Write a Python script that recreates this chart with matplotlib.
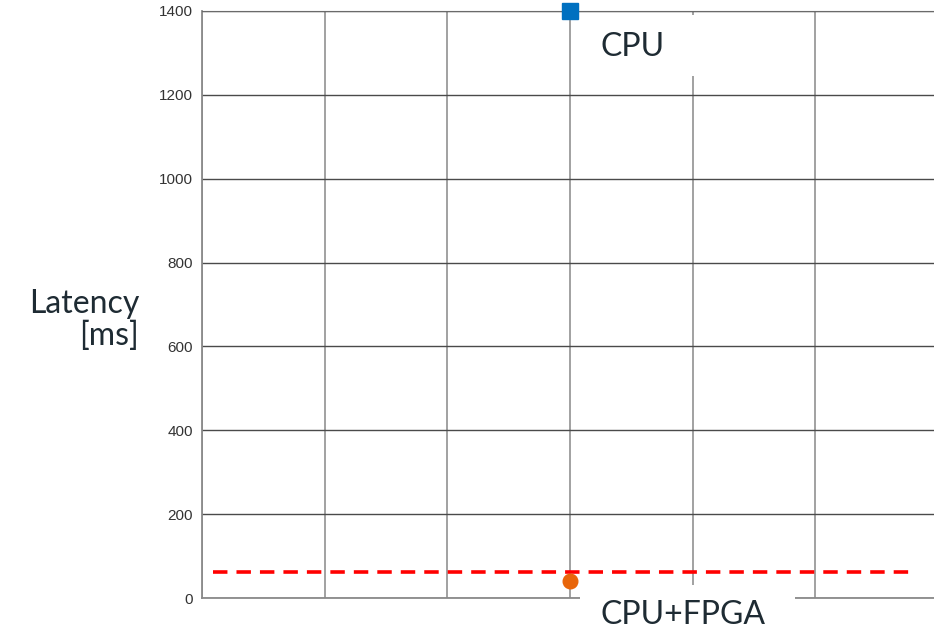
import matplotlib.pyplot as plt
from matplotlib.patches import Rectangle

# values
cpu_x = [3]
cpu_latency = [1400]
fpga_x = [3]
fpga_latency = [40]
target_latency = 62
target_span = [0.09, 5.77]
yticks = [0, 200, 400, 600, 800, 1000, 1200, 1400]
xticks = [0, 1, 2, 3, 4, 5, 6]

txt_col = '#1e2b33'

fig = plt.figure(figsize=(9.34, 6.33), dpi=100)
ax = fig.add_axes([202/934, 35/633, 736/934, 587/633])

ax.set_xlim(0, 6)
ax.set_ylim(0, 1400)
ax.set_xticks(xticks)
ax.set_xticklabels([])
ax.set_yticks(yticks)
ax.tick_params(length=0, pad=6.5, labelsize=11, labelcolor='#333333')
for lab in ax.get_yticklabels():
    lab.set_family('Liberation Sans')

ax.grid(axis='y', color='#4a4a4a', lw=1.0)
ax.grid(axis='x', color='#9a9a9a', lw=1.3)
ax.set_axisbelow(True)
for s in ['left', 'bottom']:
    ax.spines[s].set_color('#8a8a8a')
    ax.spines[s].set_linewidth(1.3)
ax.spines['top'].set_color('#6a6a6a')
ax.spines['right'].set_visible(False)

ax.hlines(target_latency, target_span[0], target_span[1], colors='#ff0000',
          linestyles=(0, (4, 2.5)), lw=2.6, zorder=3)

# white label boxes covering the grid (below the markers)
ax.add_patch(Rectangle((573/934, (633-76)/633), 124/934, 61/633, transform=fig.transFigure,
                       fc='white', ec='none', zorder=4, clip_on=False))
ax.add_patch(Rectangle((580/934, 0), 215/934, (633-585)/633, transform=fig.transFigure,
                       fc='white', ec='none', zorder=4, clip_on=False))

ax.plot(cpu_x, cpu_latency, 's', color='#0070c0', ms=11.5, clip_on=False, zorder=6)
ax.plot(fpga_x, fpga_latency, 'o', color='#e8650a', ms=10.5, clip_on=False, zorder=6)

ax.text(600/934, 1-47/633, 'CPU', fontsize=23, color=txt_col, va='center',
        family='Lato', transform=fig.transFigure, zorder=7)
ax.text(600/934, 1-615/633, 'CPU+FPGA', fontsize=23, color=txt_col, va='center',
        family='Lato', transform=fig.transFigure, zorder=7)

fig.text(139/934, 1-320/633, 'Latency\n[ms]', fontsize=23, color=txt_col, ha='right',
         va='center', multialignment='right', family='Lato', linespacing=1.1)

fig.savefig('out.png', dpi=100)
